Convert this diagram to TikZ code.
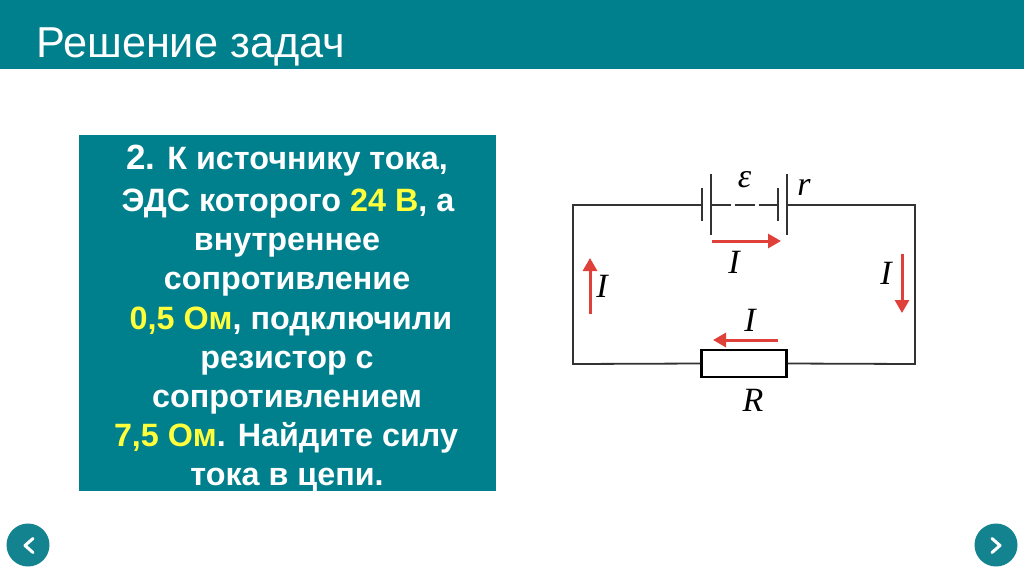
\documentclass[tikz,border=0pt]{standalone}
\usepackage{fontspec}
\setmainfont{Liberation Sans}
\newfontfamily\mathserif{Liberation Serif}
\usetikzlibrary{arrows.meta}
\definecolor{teal1}{HTML}{00808C}
\definecolor{tealbox}{HTML}{00808C}
\definecolor{tealnav}{HTML}{13848F}
\definecolor{hl}{HTML}{FFFF3C}
\definecolor{redarrow}{HTML}{E0403A}
\definecolor{wire}{HTML}{333333}
\tikzset{
  x=1pt,y=-1pt,
  line/.style={anchor=base,inner sep=0,font=\fontsize{32.3}{34}\selectfont\bfseries,text=white},
  sym/.style={anchor=center,inner sep=0,font=\fontsize{34}{36}\selectfont\mathserif\itshape,text=black},
  wireline/.style={draw=wire,line width=1.8pt},
  plate/.style={draw=wire,line width=1.5pt},
  cur/.style={draw=redarrow,line width=3pt,-{Triangle[length=13pt,width=14pt]}},
  navbtn/.style={circle,fill=tealnav,minimum size=43pt,inner sep=0},
  chev/.style={draw=white,line width=3pt,line cap=round,line join=round}
}
\begin{document}
\begin{tikzpicture}
\useasboundingbox (0,0) rectangle (1024,574);
\fill[white] (0,0) rectangle (1024,574);
\fill[teal1] (0,0) rectangle (1024,69);
\node[anchor=base west,inner sep=0,text=white,font=\fontsize{43.3}{45}\selectfont] (title) at (36,57) {Решение задач};
\fill[tealbox] (79,135) rectangle (496,491);
\node[line] (l1) at (287,169) {{\fontsize{35}{36}\selectfont 2.} К источнику тока,};
\node[line] (l2) at (288,211) {ЭДС которого \textcolor{hl}{24 В}, а};
\node[line] (l3) at (287,250) {внутреннее};
\node[line] (l4) at (287,289) {сопротивление};
\node[line] (l5) at (291,329) {\textcolor{hl}{0,5 Ом}, подключили};
\node[line] (l6) at (287,368) {резистор с};
\node[line] (l7) at (287,407) {сопротивлением};
\node[line] (l8) at (286,446) {\textcolor{hl}{7,5 Ом}. Найдите силу};
\node[line] (l9) at (287,485) {тока в цепи.};
% circuit
\coordinate (tl) at (573,205);
\coordinate (tr) at (915,205);
\coordinate (bl) at (573,364);
\coordinate (br) at (915,364);
\coordinate (p1) at (702,205);
\coordinate (p2) at (711,205);
\coordinate (p3) at (778,205);
\coordinate (p4) at (787,205);
\node[draw=black,line width=2.4pt,fill=white,minimum width=85pt,minimum height=27pt,inner sep=0] (res) at (744,363.5) {};
\draw[wireline] (p1) -- (tl) -- (bl) -- (res.west);
\draw[wireline] (p4) -- (tr) -- (br) -- (res.east);
\draw[plate] (702,188) -- (702,221);
\draw[plate] (711,174) -- (711,235);
\draw[plate] (778,188) -- (778,221);
\draw[plate] (787,174) -- (787,235);
\draw[draw=wire,line width=1.2pt] (p2) -- (731,205) (735,205) -- (755,205) (759,205) -- (p3);
\coordinate (a1s) at (712,241); \coordinate (a1e) at (781,241);
\coordinate (a2s) at (590,314); \coordinate (a2e) at (590,258);
\coordinate (a3s) at (902,254); \coordinate (a3e) at (902,313);
\coordinate (a4s) at (778,340); \coordinate (a4e) at (713,340);
\draw[cur] (a1s) -- (a1e);
\draw[cur] (a2s) -- (a2e);
\draw[cur] (a3s) -- (a3e);
\draw[cur] (a4s) -- (a4e);
\node[sym] (eps) at (744.5,180) {ε};
\node[sym] (r) at (804,187) {r};
\node[sym] (i1) at (734,262) {I};
\node[sym] (i2) at (602,286) {I};
\node[sym] (i3) at (886,273) {I};
\node[sym] (i4) at (750,320) {I};
\node[sym] (rr) at (753,400) {R};
% navigation
\node[navbtn] (prev) at (28,545) {};
\node[navbtn] (next) at (996,545) {};
\draw[chev] (33,538.5) -- (25,545.5) -- (33,552.5);
\draw[chev] (992,538.5) -- (1000,545.5) -- (992,552.5);
\end{tikzpicture}
\end{document}
